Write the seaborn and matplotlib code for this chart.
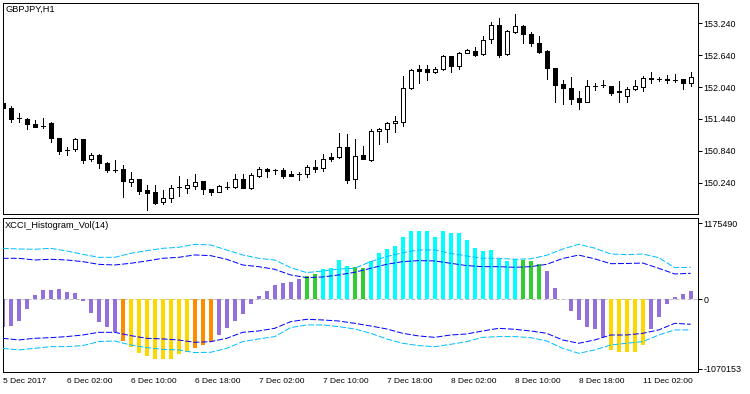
import matplotlib
matplotlib.use("Agg")
import numpy as np
import pandas as pd
import matplotlib.pyplot as plt
import seaborn as sns

# ---------------- data ----------------
symbol_title = "GBPJPY,H1"
indicator_title = "XCCI_Histogram_Vol(14)"

time_label_bars = [0, 8, 16, 24, 32, 40, 48, 56, 64, 72, 80]
time_labels = ["5 Dec 2017", "6 Dec 02:00", "6 Dec 10:00", "6 Dec 18:00",
               "7 Dec 02:00", "7 Dec 10:00", "7 Dec 18:00", "8 Dec 02:00",
               "8 Dec 10:00", "8 Dec 18:00", "11 Dec 02:00"]

price_ticks = [150.240, 150.840, 151.440, 152.040, 152.640, 153.240]
price_tick_labels = ["150.240", "150.840", "151.440", "152.040", "152.640", "153.240"]
osc_ticks = [-1070153, 0, 1175490]
osc_tick_labels = ["-1070153", "0", "1175490"]

opens = [151.740, 151.640, 151.452, 151.439, 151.345, 151.307, 151.369, 151.087, 150.855, 150.869,
         151.068, 150.680, 150.761, 150.616, 150.479, 150.492, 150.259, 150.304, 150.102, 150.059,
         149.871, 149.958, 150.153, 150.146, 150.183, 150.272, 150.127, 150.070, 150.165, 150.165,
         150.304, 150.134, 150.372, 150.492, 150.479, 150.479, 150.404, 150.404, 150.398, 150.541,
         150.511, 150.729, 150.718, 150.917, 150.304, 150.761, 150.667, 151.213, 151.245, 151.358,
         151.388, 152.017, 152.374, 152.374, 152.329, 152.374, 152.625, 152.442, 152.675, 152.719,
         152.657, 152.939, 153.208, 152.657, 153.082, 153.189, 153.033, 152.864, 152.719, 152.393,
         152.092, 152.017, 151.828, 151.764, 152.060, 152.079, 152.066, 151.966, 151.877, 151.998,
         152.047, 152.216, 152.192, 152.197, 152.173, 152.186, 152.122]
highs = [151.778, 151.683, 151.557, 151.463, 151.420, 151.452, 151.388, 151.087, 150.917, 151.087,
         151.068, 150.793, 150.780, 150.635, 150.667, 150.573, 150.447, 150.304, 150.197, 150.197,
         150.102, 150.197, 150.366, 150.310, 150.404, 150.272, 150.127, 150.197, 150.247, 150.404,
         150.404, 150.422, 150.541, 150.511, 150.498, 150.511, 150.460, 150.447, 150.573, 150.667,
         150.780, 150.793, 151.170, 151.156, 151.057, 150.931, 151.245, 151.264, 151.388, 151.495,
         152.248, 152.374, 152.455, 152.455, 152.423, 152.643, 152.625, 152.706, 152.751, 152.788,
         153.001, 153.259, 153.334, 153.114, 153.415, 153.208, 153.071, 153.001, 152.738, 152.404,
         152.173, 152.224, 151.971, 152.173, 152.111, 152.173, 152.066, 152.154, 152.035, 152.173,
         152.248, 152.329, 152.235, 152.267, 152.280, 152.186, 152.329]
lows = [151.608, 151.388, 151.388, 151.245, 151.294, 151.264, 151.012, 150.780, 150.761, 150.842,
        150.605, 150.654, 150.522, 150.447, 150.447, 149.976, 150.183, 150.027, 149.726, 149.833,
        149.833, 149.871, 149.995, 150.040, 150.121, 150.022, 150.008, 150.059, 150.116, 150.134,
        150.134, 150.121, 150.353, 150.353, 150.404, 150.334, 150.372, 150.291, 150.353, 150.447,
        150.466, 150.654, 150.699, 150.240, 150.146, 150.680, 150.648, 150.968, 151.012, 151.200,
        151.307, 151.998, 152.122, 152.173, 152.299, 152.361, 152.329, 152.380, 152.675, 152.630,
        152.643, 152.875, 152.611, 152.643, 153.063, 152.864, 152.818, 152.687, 152.192, 151.764,
        151.721, 151.721, 151.621, 151.764, 151.985, 152.035, 151.891, 151.764, 151.764, 151.985,
        151.971, 152.111, 152.154, 152.111, 152.141, 152.003, 152.060]
closes = [151.646, 151.433, 151.452, 151.339, 151.294, 151.307, 151.076, 150.842, 150.855, 151.068,
          150.667, 150.761, 150.605, 150.479, 150.479, 150.278, 150.310, 150.089, 150.052, 149.863,
          149.946, 150.146, 150.153, 150.197, 150.259, 150.116, 150.070, 150.178, 150.165, 150.304,
          150.134, 150.385, 150.492, 150.466, 150.479, 150.372, 150.372, 150.404, 150.530, 150.498,
          150.680, 150.692, 150.906, 150.291, 150.742, 150.680, 151.213, 151.251, 151.369, 151.401,
          152.017, 152.361, 152.348, 152.329, 152.374, 152.625, 152.442, 152.675, 152.738, 152.643,
          152.926, 153.208, 152.643, 153.095, 153.184, 153.033, 152.864, 152.706, 152.393, 152.079,
          152.017, 151.815, 151.764, 152.060, 152.060, 152.079, 151.934, 151.941, 151.998, 152.060,
          152.205, 152.186, 152.192, 152.173, 152.173, 152.122, 152.224]

hist_values = [-422000, -406000, -335000, -149000, 67000, 144000, 144000, 160000, 113000, 103000,
               -26000, -211000, -345000, -422000, -499000, -643000, -731000, -834000, -870000, -921000,
               -921000, -921000, -849000, -818000, -746000, -705000, -664000, -551000, -448000, -335000,
               -232000, -68000, 51000, 129000, 221000, 252000, 273000, 314000, 360000, 391000,
               468000, 484000, 607000, 514000, 494000, 484000, 592000, 721000, 777000, 823000,
               962000, 1061000, 1061000, 1061000, 962000, 1061000, 1030000, 1030000, 916000, 792000,
               746000, 767000, 622000, 597000, 623000, 607000, 597000, 545000, 437000, 175000,
               6000, -180000, -319000, -427000, -458000, -582000, -782000, -808000, -808000, -808000,
               -705000, -458000, -267000, -77000, 36000, 82000, 129000]
# P=purple, O=orange, Y=gold, G=green, C=aqua
hist_codes = list("PPPPPPPPPPPPPPPOYYYYYYYYOOOPPPPPPPPPPPGGCCCCGGCCCCCCCCCCCCCCCCCCCGGGPPPPPPPPYYYYYPPPPPP")

band_bars = list(range(0, 87, 2))
upper_outer = [787000, 777000, 772000, 787000, 746000, 695000, 648000, 648000, 710000, 751000,
               787000, 803000, 849000, 839000, 762000, 685000, 633000, 607000, 489000, 412000,
               437000, 468000, 479000, 582000, 659000, 721000, 762000, 762000, 710000, 669000,
               633000, 633000, 618000, 625000, 680000, 775000, 850000, 790000, 700000, 690000,
               700000, 643000, 489000, 494000]
upper_inner = [633000, 633000, 607000, 618000, 607000, 582000, 540000, 530000, 556000, 592000,
               633000, 648000, 685000, 674000, 618000, 530000, 504000, 463000, 376000, 335000,
               345000, 376000, 417000, 479000, 540000, 582000, 597000, 592000, 556000, 520000,
               504000, 504000, 494000, 504000, 540000, 630000, 683000, 625000, 550000, 553000,
               560000, 479000, 391000, 401000]
lower_inner = [-602000, -628000, -602000, -592000, -576000, -551000, -510000, -510000, -561000, -602000,
               -612000, -628000, -664000, -654000, -602000, -510000, -489000, -448000, -345000, -309000,
               -319000, -335000, -371000, -412000, -458000, -525000, -566000, -587000, -551000, -535000,
               -489000, -448000, -463000, -489000, -525000, -628000, -679000, -628000, -551000, -551000,
               -525000, -473000, -371000, -386000]
lower_outer = [-757000, -782000, -757000, -731000, -731000, -715000, -654000, -643000, -705000, -746000,
               -772000, -782000, -823000, -818000, -757000, -654000, -612000, -576000, -437000, -396000,
               -396000, -422000, -458000, -525000, -612000, -679000, -715000, -731000, -695000, -654000,
               -587000, -576000, -576000, -592000, -643000, -757000, -834000, -782000, -705000, -679000,
               -654000, -551000, -473000, -473000]

# ---------------- styling ----------------
sns.set_theme(style="white")
plt.rcParams['font.family'] = ['Liberation Sans', 'DejaVu Sans']
plt.rcParams['axes.linewidth'] = 0.75

W, H = 750, 394
fig = plt.figure(figsize=(W / 100, H / 100), dpi=100)
fig.patch.set_facecolor('white')

def px_axes(left, top, right, bottom):
    return fig.add_axes([left / W, 1 - bottom / H, (right - left) / W, (bottom - top) / H])

ax1 = px_axes(2.5, 2.5, 697.5, 213.5)
ax2 = px_axes(2.5, 217.5, 697.5, 372.3)

PX = 0.72  # one pixel in points
n = len(opens)
idx = np.arange(n)

# ---------------- candles ----------------
df = pd.DataFrame({"bar": idx, "open": opens, "high": highs, "low": lows, "close": closes})
df["bottom"] = df[["open", "close"]].min(axis=1)
df["height"] = (df["close"] - df["open"]).abs()
df["face"] = np.where(df["close"] < df["open"], "black", "white")

ax1.vlines(df["bar"], df["low"], df["high"], color="black", linewidth=PX, antialiased=False, zorder=2)
ax1.bar(df["bar"], df["height"], bottom=df["bottom"], width=0.5, color=df["face"],
        edgecolor="black", linewidth=PX, antialiased=False, zorder=3)

ax1.set_xlim(-0.02, 86.85)
ax1.set_ylim(149.660, 153.632)
ax1.set_xticks([])
ax1.set_yticks(price_ticks, price_tick_labels)
ax1.yaxis.tick_right()
ax1.tick_params(axis='y', direction='out', length=3, width=PX, pad=1.5, labelsize=6.4, colors='black')
for s in ax1.spines.values():
    s.set_color('black')
    s.set_linewidth(PX)

# ---------------- histogram ----------------
palette = {"P": "#9370DB", "O": "#FF8C00", "Y": "#FFD700", "G": "#32CD32", "C": "#00FFFF"}
hdf = pd.DataFrame({"bar": idx, "value": hist_values, "code": hist_codes})
ax2.axhline(0, color="#C0C0C0", linewidth=PX, linestyle=(0, (4, 2)), zorder=0.5)
sns.barplot(data=hdf, x="bar", y="value", hue="code", palette=palette, dodge=False,
            width=0.5, saturation=1, legend=False, ax=ax2, linewidth=0, zorder=2)
for p in ax2.patches:
    p.set_antialiased(False)

bdf = pd.DataFrame({"bar": band_bars, "uo": upper_outer, "ui": upper_inner,
                    "li": lower_inner, "lo": lower_outer})
for col, colr in [("uo", "#00BFFF"), ("lo", "#00BFFF"), ("ui", "#0000FF"), ("li", "#0000FF")]:
    sns.lineplot(data=bdf, x="bar", y=col, ax=ax2, color=colr, linewidth=PX,
                 linestyle=(0, (6, 2)), estimator=None, zorder=4)

ax2.set_xlim(-0.02, 86.85)
ax2.set_ylim(-1127100, 1263000)
ax2.set_xlabel("")
ax2.set_ylabel("")
ax2.set_yticks(osc_ticks, osc_tick_labels)
ax2.yaxis.tick_right()
ax2.tick_params(axis='y', direction='out', length=3, width=PX, pad=1.5, labelsize=6.4, colors='black')
ax2.set_xticks(time_label_bars, time_labels)
ax2.tick_params(axis='x', direction='out', length=3.6, width=PX, pad=0.5, labelsize=6.0, colors='black')
for lab in ax2.get_xticklabels():
    lab.set_horizontalalignment('left')
for s in ax2.spines.values():
    s.set_color('black')
    s.set_linewidth(PX)

fig.text(6 / W, 1 - 9.5 / H, symbol_title, fontsize=6.7, va='center', ha='left', color='black')
fig.text(4.5 / W, 1 - 225.5 / H, indicator_title, fontsize=6.7, va='center', ha='left', color='black')

fig.savefig("out.png", dpi=100, facecolor='white')
